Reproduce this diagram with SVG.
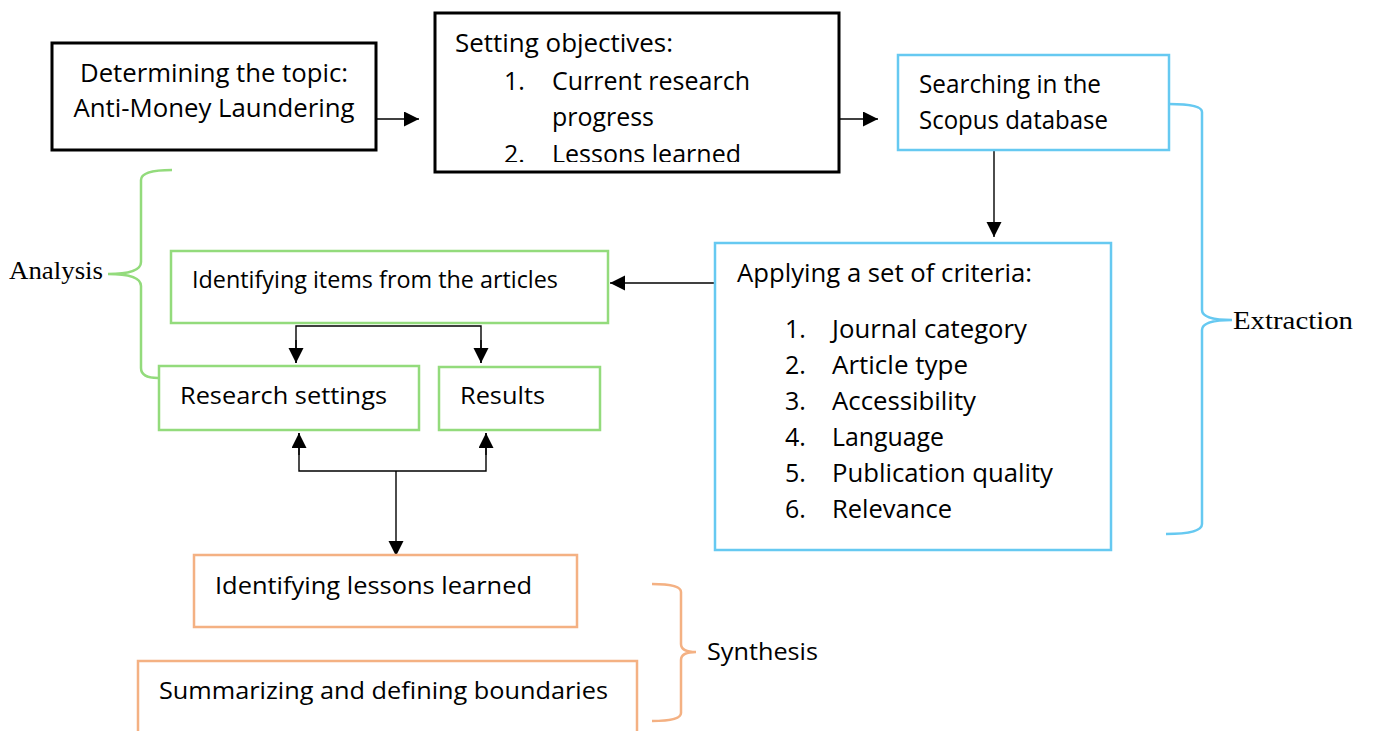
<svg xmlns="http://www.w3.org/2000/svg" width="1373" height="731" viewBox="0 0 1373 731">
<style>
.t{font-family:"Open Sans","Noto Sans","Liberation Sans",sans-serif;font-size:25px;fill:#000}
.s{font-family:"Open Sans","Noto Sans","Liberation Sans",sans-serif;font-size:24px;fill:#000}
.r{font-family:"Liberation Serif","Times New Roman",serif;font-size:25px;fill:#000}
.bk{fill:#fff;stroke:#000;stroke-width:3}
.bl{fill:#fff;stroke:#66c9f1;stroke-width:2.5}
.gr{fill:#fff;stroke:#93db7c;stroke-width:2.5}
.or{fill:#fff;stroke:#f4b183;stroke-width:2.5}
.c{fill:none;stroke:#000;stroke-width:1.4}
.br{fill:none;stroke-width:2.5}
</style>
<defs>
<marker id="ah" markerUnits="userSpaceOnUse" markerWidth="16" markerHeight="16" refX="15" refY="7.5" orient="auto">
<path d="M0,0 L15,7.5 L0,15 Z" fill="#000"/>
</marker>
<clipPath id="clip2"><rect x="434" y="12" width="405" height="150"/></clipPath>
</defs>
<rect width="1373" height="731" fill="#fff"/>

<g id="connectors">
<line class="c" x1="377" y1="119" x2="419" y2="119" marker-end="url(#ah)"/>
<line class="c" x1="839" y1="119" x2="878" y2="119" marker-end="url(#ah)"/>
<line class="c" x1="994" y1="151" x2="994" y2="237" marker-end="url(#ah)"/>
<line class="c" x1="714" y1="283" x2="610" y2="283" marker-end="url(#ah)"/>
<polyline class="c" points="296,363 296,326 481,326 481,363"/>
<line class="c" x1="296" y1="340" x2="296" y2="363" marker-end="url(#ah)"/>
<line class="c" x1="481" y1="340" x2="481" y2="363" marker-end="url(#ah)"/>
<polyline class="c" points="299,433 299,471 486,471 486,433"/>
<line class="c" x1="299" y1="455" x2="299" y2="433" marker-end="url(#ah)"/>
<line class="c" x1="486" y1="455" x2="486" y2="433" marker-end="url(#ah)"/>
<line class="c" x1="396" y1="471" x2="396" y2="556" marker-end="url(#ah)"/>
</g>

<g id="topic">
<rect class="bk" x="52" y="43" width="324" height="107"/>
<text class="t" x="214" y="82" text-anchor="middle" textLength="268" lengthAdjust="spacingAndGlyphs">Determining the topic:</text>
<text class="t" x="214" y="117" text-anchor="middle" textLength="281" lengthAdjust="spacingAndGlyphs">Anti-Money Laundering</text>
</g>

<g id="objectives">
<rect class="bk" x="435" y="13" width="404" height="159"/>
<g clip-path="url(#clip2)">
<text class="t" x="455" y="52" textLength="218" lengthAdjust="spacingAndGlyphs">Setting objectives:</text>
<text class="t" x="504" y="90">1.</text>
<text class="t" x="552" y="90" textLength="198" lengthAdjust="spacingAndGlyphs">Current research</text>
<text class="t" x="552" y="126" textLength="102" lengthAdjust="spacingAndGlyphs">progress</text>
<text class="t" x="504" y="163">2.</text>
<text class="t" x="552" y="163" textLength="189" lengthAdjust="spacingAndGlyphs">Lessons learned</text>
</g>
</g>

<g id="searching">
<rect class="bl" x="898" y="55" width="271" height="95"/>
<text class="t" x="919" y="93" textLength="182" lengthAdjust="spacingAndGlyphs">Searching in the</text>
<text class="t" x="919" y="129" textLength="189" lengthAdjust="spacingAndGlyphs">Scopus database</text>
</g>

<g id="criteria">
<rect class="bl" x="715" y="243" width="396" height="307"/>
<text class="t" x="737" y="282" textLength="295" lengthAdjust="spacingAndGlyphs">Applying a set of criteria:</text>
<text class="t" x="785" y="338">1.</text>
<text class="t" x="832" y="338" textLength="195" lengthAdjust="spacingAndGlyphs">Journal category</text>
<text class="t" x="785" y="374">2.</text>
<text class="t" x="832" y="374" textLength="136" lengthAdjust="spacingAndGlyphs">Article type</text>
<text class="t" x="785" y="410">3.</text>
<text class="t" x="832" y="410" textLength="144" lengthAdjust="spacingAndGlyphs">Accessibility</text>
<text class="t" x="785" y="446">4.</text>
<text class="t" x="832" y="446" textLength="112" lengthAdjust="spacingAndGlyphs">Language</text>
<text class="t" x="785" y="482">5.</text>
<text class="t" x="832" y="482" textLength="221" lengthAdjust="spacingAndGlyphs">Publication quality</text>
<text class="t" x="785" y="518">6.</text>
<text class="t" x="832" y="518" textLength="120" lengthAdjust="spacingAndGlyphs">Relevance</text>
</g>

<g id="identifying-items">
<rect class="gr" x="171" y="251" width="437" height="72"/>
<text class="s" x="192" y="288" textLength="366" lengthAdjust="spacingAndGlyphs">Identifying items from the articles</text>
</g>

<g id="research-settings">
<rect class="gr" x="159" y="366" width="260" height="64"/>
<text class="s" x="180" y="404" textLength="207" lengthAdjust="spacingAndGlyphs">Research settings</text>
</g>

<g id="results">
<rect class="gr" x="439" y="367" width="161" height="63"/>
<text class="s" x="460" y="404" textLength="85" lengthAdjust="spacingAndGlyphs">Results</text>
</g>

<g id="lessons">
<rect class="or" x="194" y="555" width="383" height="72"/>
<text class="s" x="215" y="594" textLength="317" lengthAdjust="spacingAndGlyphs">Identifying lessons learned</text>
</g>

<g id="summarizing">
<rect class="or" x="138" y="661" width="499" height="80"/>
<text class="s" x="159" y="699" textLength="449" lengthAdjust="spacingAndGlyphs">Summarizing and defining boundaries</text>
</g>

<g id="analysis-brace">
<path class="br" stroke="#93db7c" d="M172,170 Q141,170 141,180 L141,262 Q141,274 108,274 Q141,274 141,286 L141,368 Q141,378 158,378"/>
<text class="r" x="9" y="279" textLength="94" lengthAdjust="spacingAndGlyphs">Analysis</text>
</g>

<g id="extraction-brace">
<path class="br" stroke="#66c9f1" d="M1169,104 Q1202,104 1202,112 L1202,310 Q1202,320 1232,320 Q1202,320 1202,330 L1202,524 Q1202,534 1166,534"/>
<text class="r" x="1233" y="329" textLength="120" lengthAdjust="spacingAndGlyphs">Extraction</text>
</g>

<g id="synthesis-brace">
<path class="br" stroke="#f4b183" d="M652,584 Q681,584 681,592 L681,644 Q681,652 696,652 Q681,652 681,660 L681,713 Q681,721 652,721"/>
<text class="s" x="707" y="660" textLength="111" lengthAdjust="spacingAndGlyphs">Synthesis</text>
</g>
</svg>
